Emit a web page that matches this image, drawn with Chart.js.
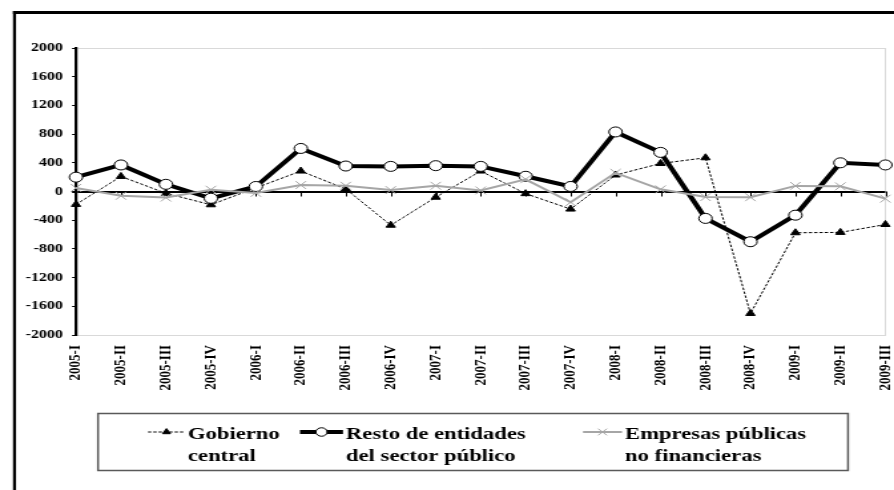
<!DOCTYPE html>
<html>
<head>
<meta charset="utf-8">
<script src="https://cdn.jsdelivr.net/npm/chart.js@4.4.0/dist/chart.umd.min.js"></script>
<style>
html,body{margin:0;padding:0;background:#fff;}
canvas{display:block;}
</style>
</head>
<body>
<canvas id="c" width="672" height="490" style="width:894px;height:490px"></canvas>
<script>
// ---- data ----
const categories = ['2005-I','2005-II','2005-III','2005-IV','2006-I','2006-II','2006-III','2006-IV',
  '2007-I','2007-II','2007-III','2007-IV','2008-I','2008-II','2008-III','2008-IV','2009-I','2009-II','2009-III'];
const gobiernoCentral = [-180, 210, -25, -185, 50, 285, 35, -470, -80, 285, -30, -245, 230, 390, 470, -1700, -575, -570, -460];
const restoEntidades  = [200, 370, 100, -95, 70, 600, 355, 350, 360, 350, 212, 70, 830, 545, -375, -700, -330, 400, 370];
const empresasPublicas = [50, -60, -85, 25, -20, 90, 80, 20, 80, 15, 170, -150, 260, 30, -78, -80, 78, 72, -100];
const seriesNames = [['Gobierno','central'],['Resto de entidades','del sector público'],['Empresas públicas','no financieras']];
const yMin = -2000, yMax = 2000, yStep = 400;

// ---- layout helpers (canvas is drawn narrower and stretched horizontally, like the reference) ----
const SX = 894 / 672;
const px = v => v / SX;
const FONT = '"Liberation Serif", "Times New Roman", serif';

const decor = {
  id: 'decor',
  beforeDraw(chart) {
    const ctx = chart.ctx;
    ctx.save();
    ctx.fillStyle = '#fff';
    ctx.fillRect(0, 0, chart.width, chart.height);
    ctx.fillStyle = '#000';
    ctx.fillRect(px(13), 11, chart.width, 3);
    ctx.fillRect(px(13), 11, px(3), chart.height);
    ctx.restore();
  },
  beforeDatasetsDraw(chart) {
    const ctx = chart.ctx, xs = chart.scales.x, ys = chart.scales.y;
    const y0 = ys.getPixelForValue(0);
    ctx.save();
    ctx.strokeStyle = '#000';
    ctx.lineWidth = 1;
    categories.forEach((c, i) => {
      const x = Math.round(xs.getPixelForValue(i)) + 0.5;
      ctx.beginPath();
      ctx.moveTo(x, y0);
      ctx.lineTo(x, y0 + 5);
      ctx.stroke();
    });
    ctx.restore();
  },
  afterDraw(chart) {
    const ctx = chart.ctx;
    ctx.save();
    // legend box
    ctx.strokeStyle = '#595959';
    ctx.lineWidth = 1.5;
    ctx.strokeRect(px(98), 413.5, px(750), 57);
    const items = [
      {x0: 148, x1: 185, tx: 188},
      {x0: 300, x1: 343, tx: 346},
      {x0: 583, x1: 622, tx: 625}
    ];
    chart.data.datasets.forEach((ds, i) => {
      const it = items[i];
      const ly = 432;
      ctx.save();
      ctx.strokeStyle = ds.borderColor;
      ctx.lineWidth = ds.borderWidth;
      ctx.setLineDash(ds.borderDash || []);
      ctx.beginPath();
      ctx.moveTo(px(it.x0), ly);
      ctx.lineTo(px(it.x1), ly);
      ctx.stroke();
      ctx.setLineDash([]);
      ctx.fillStyle = ds.pointBackgroundColor;
      ctx.strokeStyle = ds.pointBorderColor;
      ctx.lineWidth = ds.pointBorderWidth;
      Chart.helpers.drawPoint(ctx, {pointStyle: ds.pointStyle, radius: ds.pointRadius * 0.85, rotation: 0, borderWidth: ds.pointBorderWidth},
        px((it.x0 + it.x1) / 2), ly);
      ctx.restore();
      ctx.fillStyle = '#000';
      ctx.font = 'bold 17px ' + FONT;
      ctx.textBaseline = 'alphabetic';
      ctx.textAlign = 'left';
      ctx.fillText(seriesNames[i][0], px(it.tx), 439);
      ctx.fillText(seriesNames[i][1], px(it.tx), 461);
    });
    ctx.restore();
  }
};

new Chart(document.getElementById('c'), {
  type: 'line',
  data: {
    labels: categories,
    datasets: [
      {label: seriesNames[0].join(' '), data: gobiernoCentral, borderColor: '#000', borderWidth: 1, borderDash: [2.5, 1.5],
       pointStyle: 'triangle', pointRadius: 4, pointBackgroundColor: '#000', pointBorderColor: '#000', pointBorderWidth: 1,
       tension: 0, clip: false, order: 2},
      {label: seriesNames[1].join(' '), data: restoEntidades, borderColor: '#000', borderWidth: 4,
       pointStyle: 'circle', pointRadius: 5, pointBackgroundColor: '#fff', pointBorderColor: '#000', pointBorderWidth: 1,
       tension: 0, clip: false, order: 1},
      {label: seriesNames[2].join(' '), data: empresasPublicas, borderColor: '#a6a6a6', borderWidth: 2,
       pointStyle: 'crossRot', pointRadius: 5.5, pointBackgroundColor: '#a6a6a6', pointBorderColor: '#a6a6a6', pointBorderWidth: 1,
       tension: 0, clip: false, order: 0}
    ]
  },
  options: {
    responsive: false,
    devicePixelRatio: 1,
    animation: false,
    layout: {padding: {top: 48, left: 0, right: px(3), bottom: 0}},
    plugins: {legend: {display: false}, tooltip: {enabled: false}},
    scales: {
      x: {
        type: 'category',
        offset: false,
        grid: {display: true, drawOnChartArea: true, drawTicks: false,
               color: c => (c.index === categories.length - 1 ? '#d9d9d9' : 'rgba(0,0,0,0)')},
        border: {display: true, color: '#d9d9d9', width: 1},
        ticks: {autoSkip: false, maxRotation: 90, minRotation: 90, padding: 10, color: '#000',
                font: {family: FONT, size: 13, weight: 'bold'}},
        afterFit(s) { s.height = 490 - 335; s.paddingLeft = 0; s.paddingRight = 0; }
      },
      y: {
        min: yMin, max: yMax,
        ticks: {stepSize: yStep, padding: 7, color: '#000', font: {family: FONT, size: 12, weight: 'bold'},
                callback: v => String(v)},
        grid: {drawOnChartArea: true, drawTicks: true, tickLength: 3, tickColor: '#000',
               color: c => (c.tick && c.tick.value === 0 ? '#000' : (c.tick && Math.abs(c.tick.value) === 2000 ? '#d9d9d9' : 'rgba(0,0,0,0)')),
               lineWidth: c => (c.tick && c.tick.value === 0 ? 2 : 1)},
        border: {display: true, color: '#000', width: 2.25},
        afterFit(s) { s.width = px(76); s.paddingTop = 0; s.paddingBottom = 0; }
      }
    }
  },
  plugins: [decor]
});
</script>
</body>
</html>
